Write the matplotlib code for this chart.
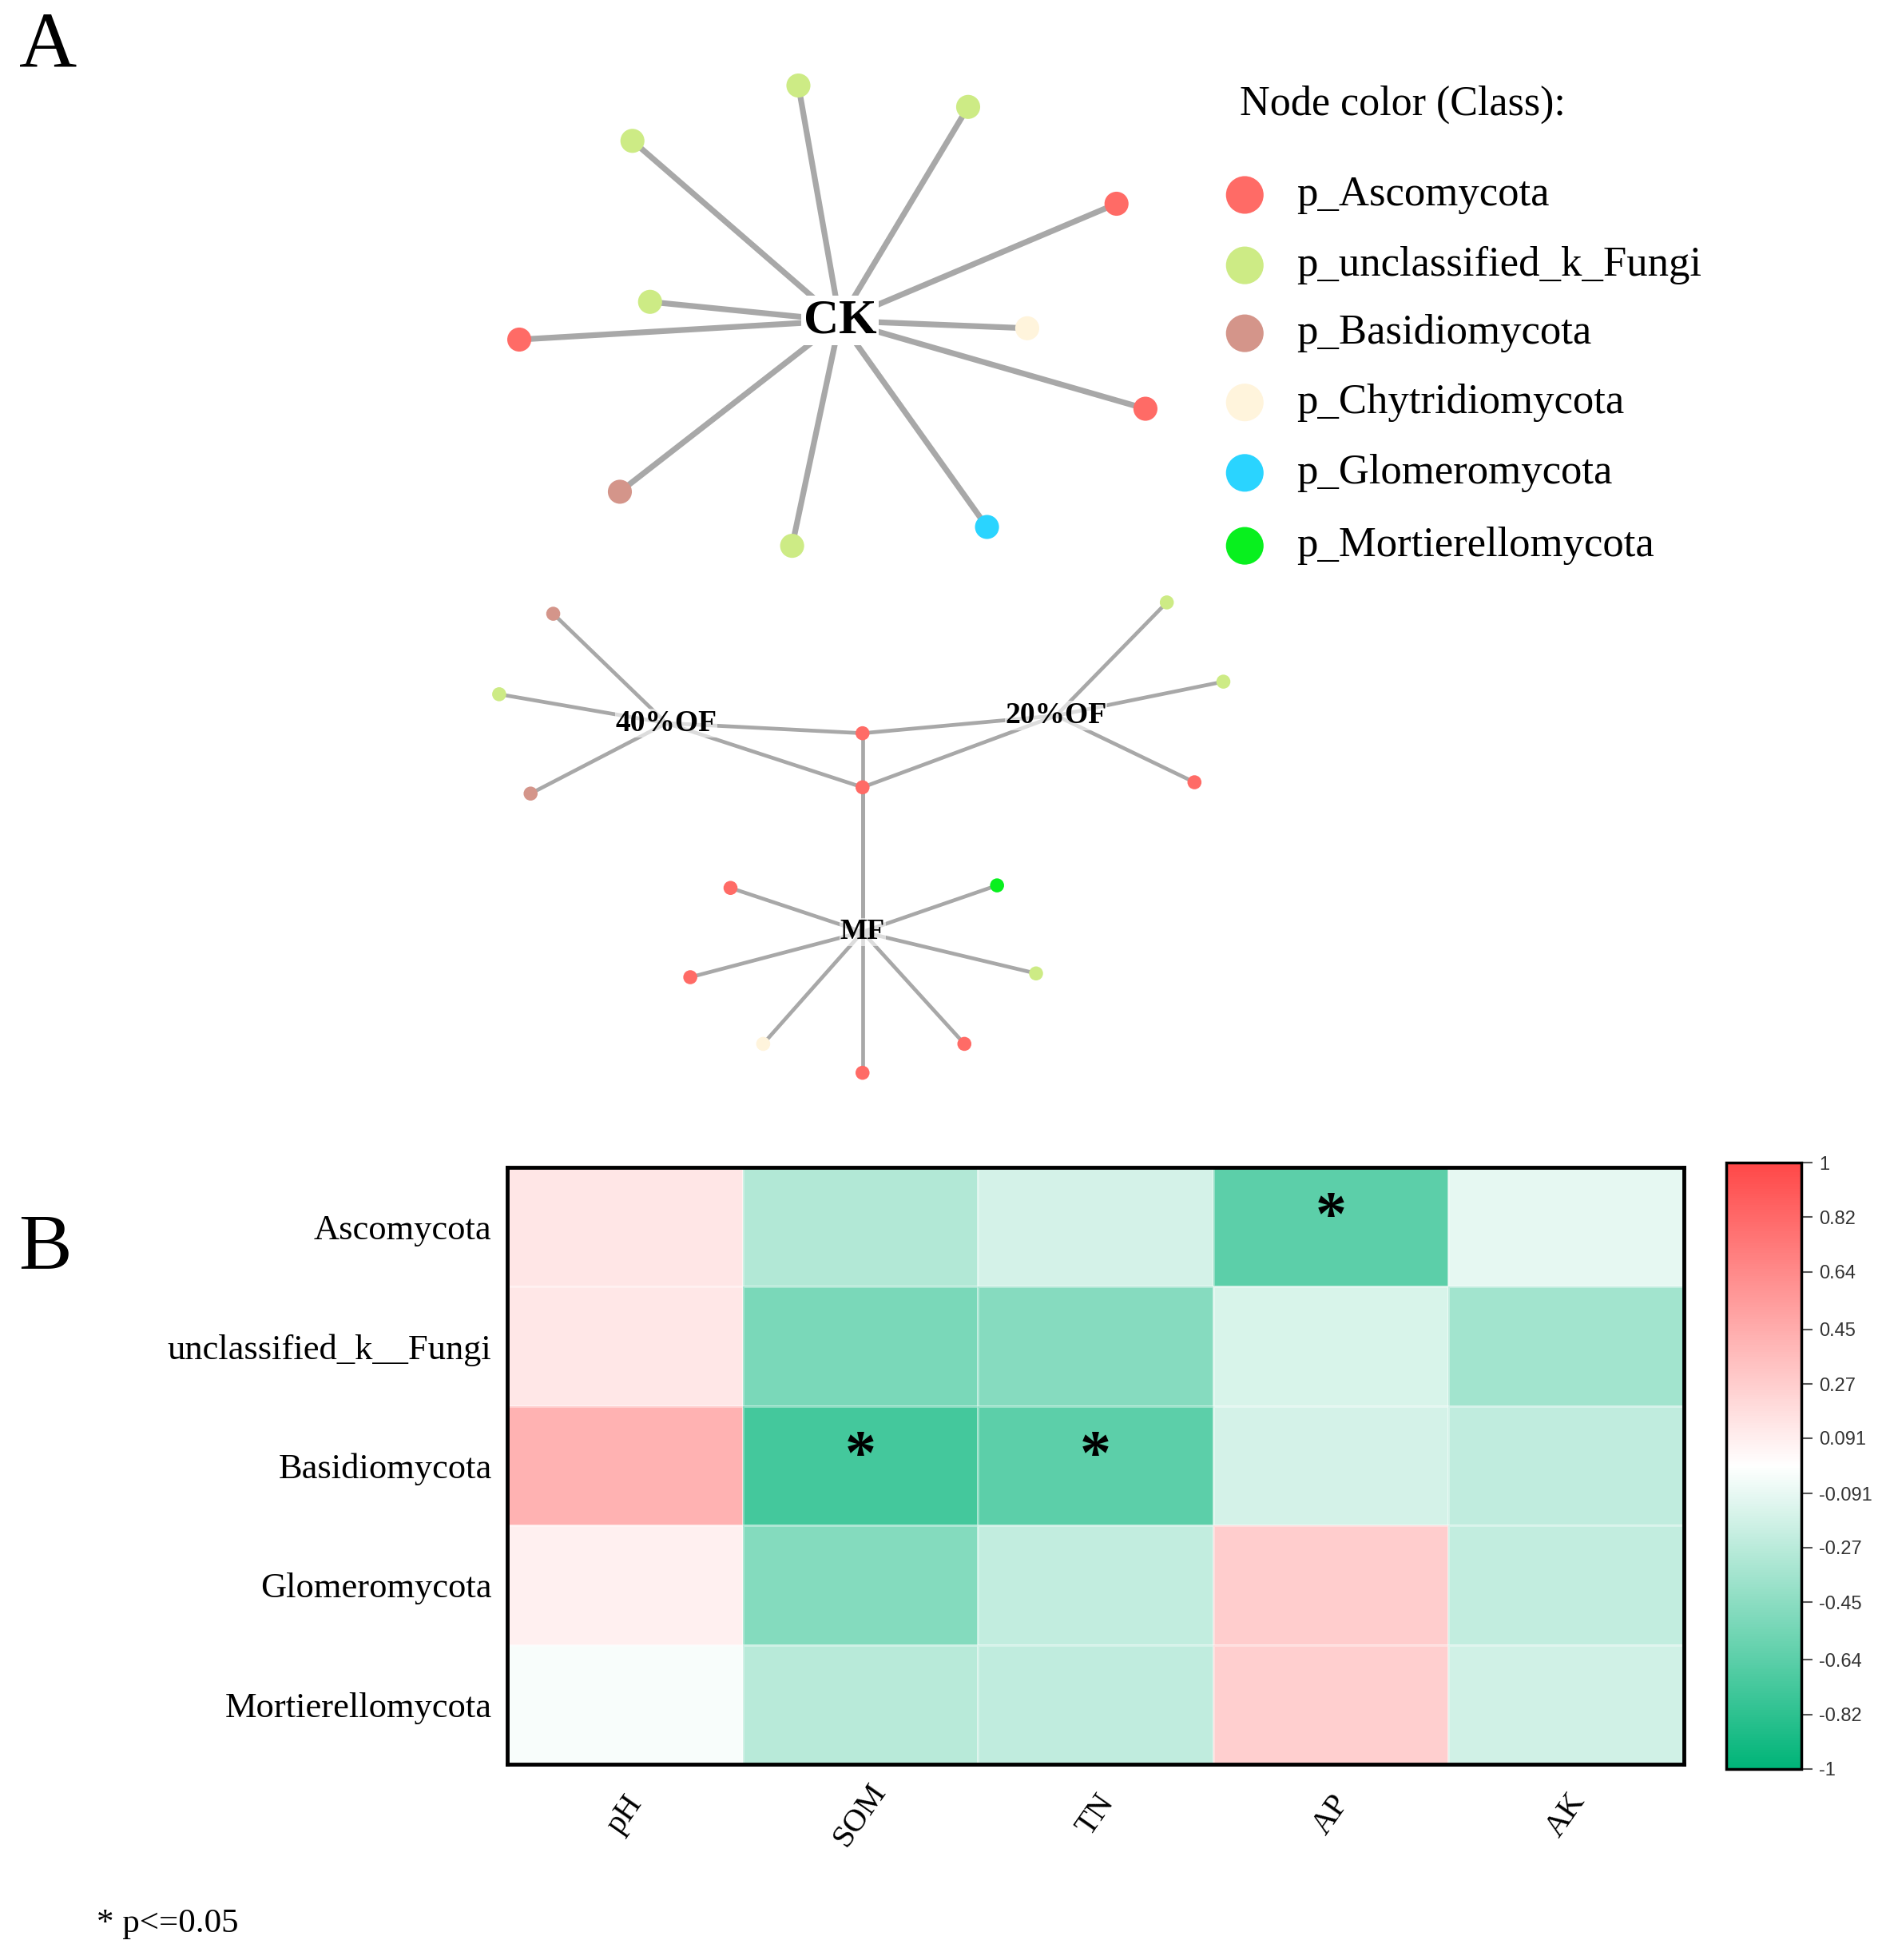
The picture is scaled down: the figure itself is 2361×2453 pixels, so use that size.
import numpy as np
import matplotlib
matplotlib.use("Agg")
import matplotlib.pyplot as plt
from matplotlib.colors import LinearSegmentedColormap

plt.rcParams['font.family'] = ['Liberation Serif', 'DejaVu Serif']

# ---------------- panel A : co-occurrence network ----------------
classes = ["p_Ascomycota", "p_unclassified_k_Fungi", "p_Basidiomycota",
           "p_Chytridiomycota", "p_Glomeromycota", "p_Mortierellomycota"]
class_colors = ["#FF6B66", "#CDEB85", "#D4958A", "#FFF4DC", "#2AD4FF", "#08F01E"]

# node layout (page units)
ck_hub = (668, 255)
ck_x = [635, 770, 503, 888, 517, 413, 817, 911, 493, 630, 785]
ck_y = [68, 85, 112, 162, 240, 270, 261, 325, 391, 434, 419]
ck_cls = [1, 1, 1, 0, 1, 0, 3, 0, 2, 1, 4]

hub_names = ["40%OF", "20%OF", "MF"]
hub_x = [530, 840, 686]
hub_y = [575, 569, 741]

shared_x = [686, 686]
shared_y = [583, 626]
shared_cls = [0, 0]

of40_x = [440, 397, 422]
of40_y = [488, 552, 631]
of40_cls = [2, 1, 2]

of20_x = [928, 973, 950]
of20_y = [479, 542, 622]
of20_cls = [1, 1, 0]

mf_x = [581, 793, 549, 824, 607, 767, 686]
mf_y = [706, 704, 777, 774, 830, 830, 853]
mf_cls = [0, 5, 0, 1, 3, 0, 0]

# ---------------- panel B : correlation heatmap ----------------
phyla = ["Ascomycota", "unclassified_k__Fungi", "Basidiomycota",
         "Glomeromycota", "Mortierellomycota"]
factors = ["pH", "SOM", "TN", "AP", "AK"]
r_pH = [0.14, 0.13, 0.42, 0.08, -0.03]
r_SOM = [-0.30, -0.52, -0.73, -0.48, -0.28]
r_TN = [-0.17, -0.47, -0.64, -0.24, -0.25]
r_AP = [-0.64, -0.15, -0.17, 0.27, 0.26]
r_AK = [-0.10, -0.36, -0.25, -0.24, -0.18]
sig_rows = [0, 2, 2]
sig_cols = [3, 1, 2]
cbar_ticks = [1, 0.82, 0.64, 0.45, 0.27, 0.091, -0.091, -0.27, -0.45, -0.64, -0.82, -1]

W, H = 2361, 2453
fig = plt.figure(figsize=(W / 100, H / 100), dpi=100)

# page axes in the reference's display units (1500 wide)
sc = W / 1500.0
page = fig.add_axes([0, 0, 1, 1])
page.set_xlim(0, W / sc)
page.set_ylim(H / sc, 0)
page.axis('off')

edge_c = "#A8A8A8"

def cols(idx):
    return [class_colors[i] for i in idx]

# CK star
for x, y in zip(ck_x, ck_y):
    page.plot([ck_hub[0], x], [ck_hub[1], y], color=edge_c, lw=5.2, zorder=1, solid_capstyle='butt')
page.scatter(ck_x, ck_y, s=470, c=cols(ck_cls), zorder=3, linewidths=0)
page.text(ck_hub[0], ck_hub[1], "CK", ha='center', va='center', fontsize=44,
          fontweight='bold', zorder=4,
          bbox=dict(boxstyle='square,pad=0.05', fc='white', ec='none'))

# lower three sub-networks
h40 = (hub_x[0], hub_y[0])
h20 = (hub_x[1], hub_y[1])
hmf = (hub_x[2], hub_y[2])
lw2 = 3.4
for (hx, hy), xs, ys in [(h40, of40_x, of40_y), (h20, of20_x, of20_y), (hmf, mf_x, mf_y)]:
    for x, y in zip(xs, ys):
        page.plot([hx, x], [hy, y], color=edge_c, lw=lw2, zorder=1)
for hx, hy in [h40, h20, hmf]:
    for x, y in zip(shared_x, shared_y):
        page.plot([hx, x], [hy, y], color=edge_c, lw=lw2, zorder=1)

page.scatter(of40_x + of20_x + mf_x + shared_x, of40_y + of20_y + mf_y + shared_y,
             s=160, c=cols(of40_cls + of20_cls + mf_cls + shared_cls), zorder=3, linewidths=0)
for name, hx, hy in zip(hub_names, hub_x, hub_y):
    page.text(hx, hy, name, ha='center', va='center', fontsize=27 if name != "MF" else 26,
              fontweight='bold', zorder=4,
              bbox=dict(boxstyle='square,pad=0.02', fc='white', ec='none', alpha=0.6))

# legend
page.text(986, 83, "Node color (Class):", ha='left', va='center', fontsize=37.5)
leg_y = [155, 211, 265, 320, 376, 434]
page.scatter([990] * len(classes), leg_y, s=1150, c=class_colors, linewidths=0, zorder=3)
for lab, y in zip(classes, leg_y):
    page.text(1031, y, lab, ha='left', va='center', fontsize=38)

# panel letters and footnote
page.text(15, 38, "A", ha='left', va='center', fontsize=72)
page.text(15, 993, "B", ha='left', va='center', fontsize=72)
page.text(77, 1530, "* p<=0.05", ha='left', va='center', fontsize=31)

# heatmap
mat = np.array([r_pH, r_SOM, r_TN, r_AP, r_AK]).T
cmap = LinearSegmentedColormap.from_list("gwr", ["#00B478", "#FFFFFF", "#FF4848"])

ax = fig.add_axes([635 / W, 1 - 2208 / H, (2108 - 635) / W, (2208 - 1461) / H])
mesh = ax.pcolormesh(np.arange(len(factors) + 1), np.arange(len(phyla) + 1), mat,
                     cmap=cmap, vmin=-1, vmax=1, edgecolors=(1, 1, 1, 0.35), linewidth=1)
ax.set_xlim(0, len(factors))
ax.set_ylim(len(phyla), 0)
ax.set_yticks(np.arange(len(phyla)) + 0.5)
ax.set_yticklabels(phyla, fontsize=32)
ax.set_xticks([])
ax.tick_params(axis='y', length=0, pad=14)
for sp in ax.spines.values():
    sp.set_linewidth(3.5)

for r, c in zip(sig_rows, sig_cols):
    ax.text(c + 0.5, r + 0.43, "*", ha='center', va='center', fontsize=56, fontweight='bold')

for i, f in enumerate(factors):
    ax.text(i + 0.5, -0.085, f, transform=ax.get_xaxis_transform(), ha='center', va='center',
            rotation=55, fontsize=29)

# colour bar
cax = fig.add_axes([2161 / W, 1 - 2214 / H, (2255 - 2161) / W, (2214 - 1455) / H])
cb = fig.colorbar(mesh, cax=cax, ticks=cbar_ticks)
cb.set_ticklabels([str(t) for t in cbar_ticks])
cb.outline.set_linewidth(2.5)
cax.tick_params(length=10, width=1.5, color='#555555', labelsize=17, pad=6, labelcolor='#333333')
for t in cax.get_yticklabels():
    t.set_family(['Liberation Sans', 'DejaVu Sans'])

fig.savefig("out.png", dpi=100, facecolor='white')
